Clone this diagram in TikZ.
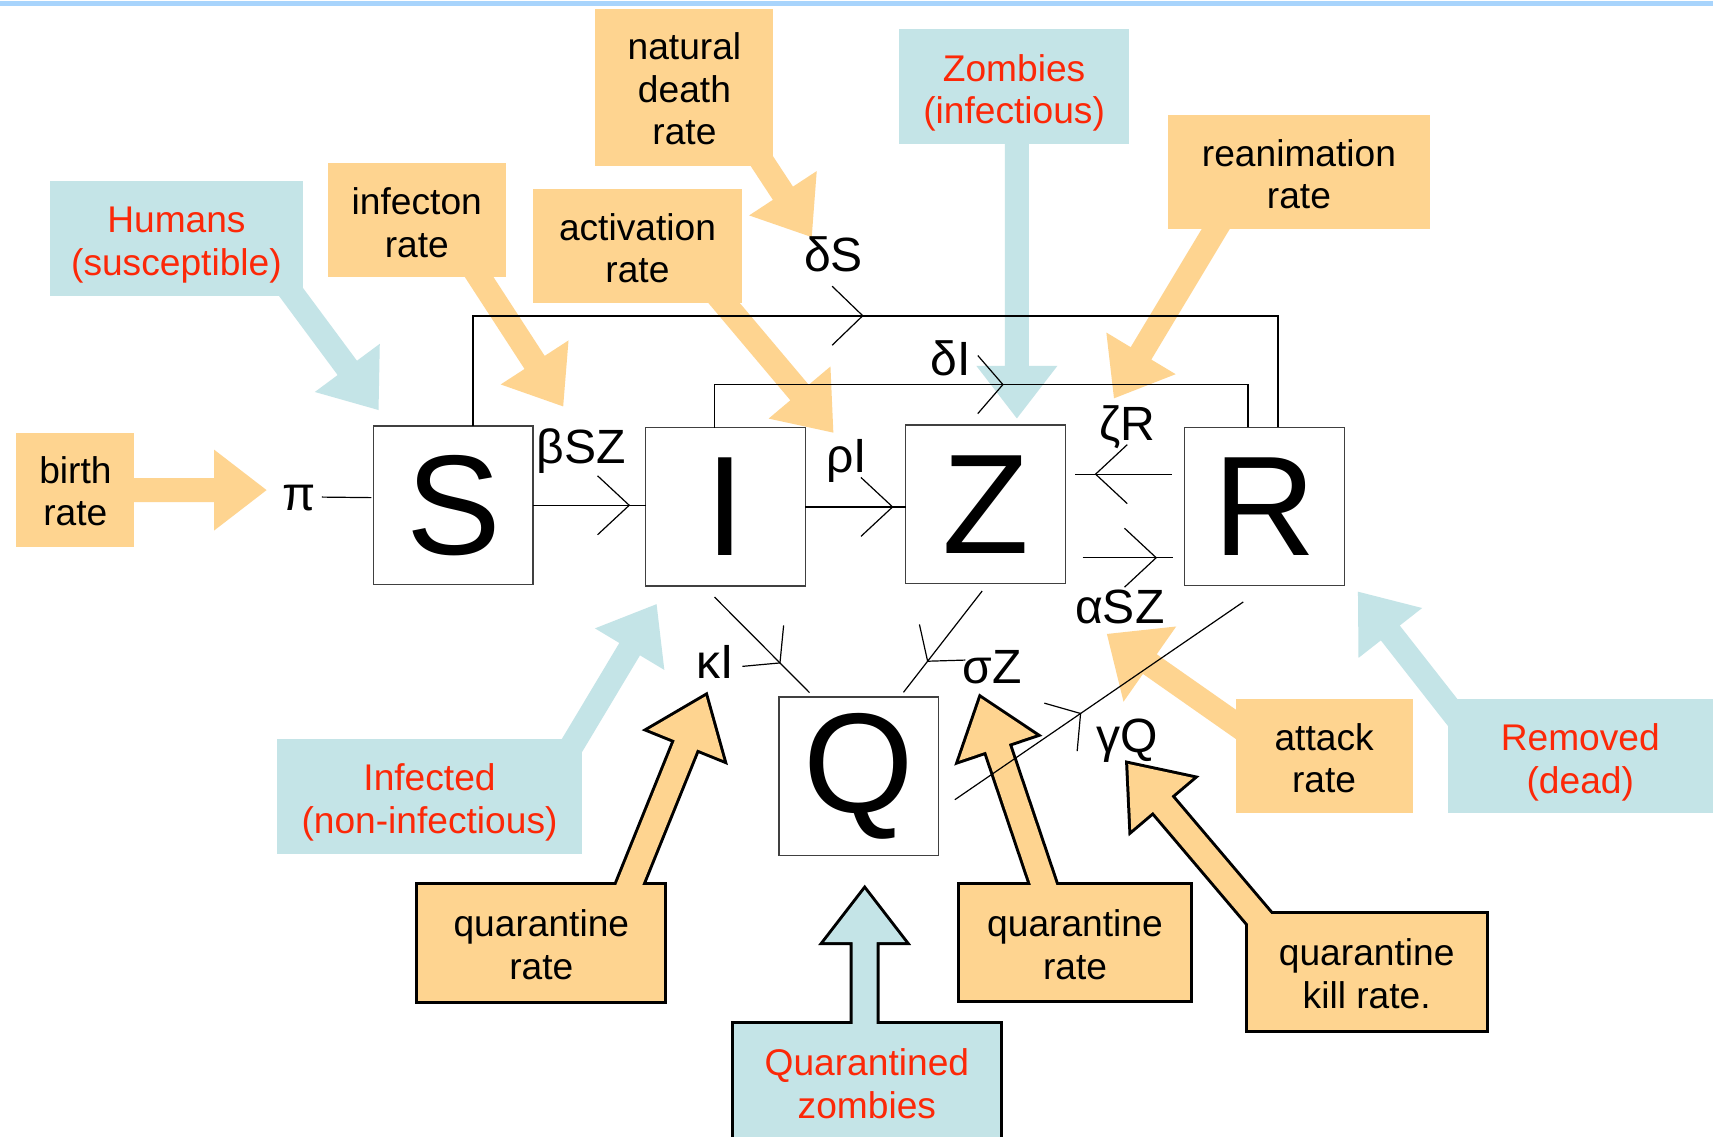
\documentclass[tikz,border=0pt]{standalone}
\usepackage{fontspec}
\setmainfont{Liberation Sans}
\usetikzlibrary{calc,decorations.markings}
\definecolor{cOr}{RGB}{254,212,144}
\definecolor{cBl}{RGB}{196,228,231}
\definecolor{cRd}{RGB}{252,40,8}
\definecolor{cBand}{RGB}{168,212,252}
\definecolor{cBox}{RGB}{64,64,64}
% callout pointer: [half head width]{path options}{start}{tip}
\newcommand\ptr[4][18.5pt]{%
  \coordinate (ptrN) at ($(#4)!24pt!(#3)$);
  \path[#2] ($(#3)!5.5pt!90:(#4)$) -- ($(ptrN)!5.5pt!90:(#4)$) -- ($(ptrN)!#1!90:(#4)$) -- (#4)
    -- ($(ptrN)!#1!-90:(#4)$) -- ($(ptrN)!5.5pt!-90:(#4)$) -- ($(#3)!5.5pt!-90:(#4)$) -- cycle;}
\tikzset{
  conn/.style={line width=0.55pt, black},
  thickconn/.style={line width=0.85pt, black},
  sz/.style 2 args={minimum width=#1*0.5pt, minimum height=#2*0.5pt},
  mbox/.style={draw=cBox, line width=0.6pt, fill=white, minimum width=73pt, minimum height=72.5pt,
    inner sep=0pt, outer sep=0pt, font=\fontsize{65}{65}\selectfont},
  ctext/.style={align=center, font=\fontsize{17}{19.5}\selectfont, inner sep=0pt, text=black},
  rtext/.style={ctext, text=cRd},
  obox/.style={fill=cOr, inner sep=0pt, outer sep=0pt},
  bbox/.style={fill=cBl, inner sep=0pt, outer sep=0pt},
  lbl/.style={font=\fontsize{22}{22}\selectfont, inner sep=0pt},
  bord/.style={draw=black, line width=2.75pt, line join=miter},
  flowmark/.style={postaction={decorate}, decoration={markings, mark=at position #1 with
    {\draw[conn] (-14.5pt,13.5pt) -- (0pt,0pt) -- (-14.5pt,-13.5pt);}}},
  qmark/.style={postaction={decorate}, decoration={markings, mark=at position #1 with
    {\draw[conn] (-11pt,13.3pt) -- (0pt,0pt) -- (-11pt,-13.3pt);}}},
  chev/.pic={\draw[conn] (-14pt,13.5pt) -- (0pt,0pt) -- (-14pt,-13.5pt);},
  chevs/.pic={\draw[conn] (-11.5pt,13.3pt) -- (0pt,0pt) -- (-11.5pt,-13.3pt);}
}
\begin{document}
\begin{tikzpicture}[x=0.5pt,y=-0.5pt]
\useasboundingbox (0,0) rectangle (1568,1040);
\clip (0,0) rectangle (1568,1040);
\fill[white] (0,0) rectangle (1568,1040);
\fill[cBand] (0,0.5) rectangle (1568,5.5);

% ---- unbordered callouts: pointers
\coordinate (hA) at (263,262.7);      \coordinate (hT) at (346.5,375.3);
\coordinate (infA) at (433.8,246.2);  \coordinate (infT) at (515.5,372);
\coordinate (ndA) at (682.6,125);     \coordinate (ndT) at (743,217);
\coordinate (acA) at (653.2,266);     \coordinate (acT) at (762.8,396);
\coordinate (zbA) at (930.8,120);     \coordinate (zbT) at (930.8,383);
\coordinate (reA) at (1117.5,201.8);  \coordinate (reT) at (1019.7,364.6);
\coordinate (brA) at (110,448.6);     \coordinate (brT) at (244,448.6);
\coordinate (ifA) at (518.8,690.3);   \coordinate (ifT) at (601,553);
\coordinate (atA) at (1144.2,672.1);  \coordinate (atT) at (1013.2,580.3);
\coordinate (rmA) at (1341.7,667.5);  \coordinate (rmT) at (1243,541.6);
\ptr{fill=cBl}{hA}{hT}
\ptr{fill=cOr}{infA}{infT}
\ptr{fill=cOr}{ndA}{ndT}
\ptr{fill=cOr}{acA}{acT}
\ptr{fill=cBl}{zbA}{zbT}
\ptr{fill=cOr}{reA}{reT}
\ptr{fill=cOr}{brA}{brT}
\ptr{fill=cBl}{ifA}{ifT}
\ptr[21pt]{fill=cOr}{atA}{atT}
\ptr{fill=cBl}{rmA}{rmT}

% ---- unbordered callouts: boxes and their texts
\node[bbox, sz={231}{104.6}] (hum) at (161.5,218.3) {};
\node[rtext] (humT) at ($(hum)+(0,6)$) {Humans\\(susceptible)};
\node[obox, sz={163}{104.5}] (infB) at (381.5,201.75) {};
\node[ctext] (infBT) at ($(infB)+(0,2)$) {infecton\\rate};
\node[obox, sz={163}{144}] (ndB) at (626.5,80) {};
\node[ctext] (ndBT) at ($(ndB)+(0,1.5)$) {natural\\death\\rate};
\node[obox, sz={191}{104.6}] (acB) at (583.5,225.3) {};
\node[ctext] (acBT) at ($(acB)+(0,2)$) {activation\\rate};
\node[bbox, sz={210.5}{105}] (zbB) at (928.25,79) {};
\node[rtext] (zbBT) at ($(zbB)+(0,6)$) {Zombies\\(infectious)};
\node[obox, sz={240}{105}] (reB) at (1189,157.5) {};
\node[ctext] (reBT) at ($(reB)+(0,2)$) {reanimation\\rate};
\node[obox, sz={108}{104.6}] (brB) at (69,448.3) {};
\node[ctext] (brBT) at ($(brB)+(0,1.5)$) {birth\\rate};
\node[bbox, sz={279.3}{105.2}] (ifB) at (393.15,728.9) {};
\node[rtext] (ifBT) at ($(ifB)+(0,5.5)$) {Infected\\(non-infectious)};
\node[obox, sz={162}{104}] (atB) at (1212,692) {};
\node[ctext] (atBT) at ($(atB)+(0,2)$) {attack\\rate};
\node[bbox, sz={243}{104}] (rmB) at (1446.5,692) {};
\node[rtext] (rmBT) at ($(rmB)+(0,6)$) {Removed\\(dead)};

% ---- bordered callouts
\coordinate (qlA) at (567.1,832);     \coordinate (qlT) at (645.9,637.3);
\coordinate (qzA) at (791.5,960);     \coordinate (qzT) at (791.5,814.3);
\coordinate (qrA2) at (961.5,828.5);  \coordinate (qrT2) at (897.6,639);
\coordinate (qkA) at (1162.1,851.9);  \coordinate (qkT) at (1032.7,699.3);
\draw[bord] (383,810) rectangle (608,916);
\draw[bord] (671.6,937) rectangle (915.3,1060);
\draw[bord] (879,810) rectangle (1089,915);
\draw[bord] (1142,837) rectangle (1360,943);
\ptr{bord}{qlA}{qlT}
\ptr{bord}{qzA}{qzT}
\ptr{bord}{qrA2}{qrT2}
\ptr{bord}{qkA}{qkT}
\fill[cOr] (383,810) rectangle (608,916);
\fill[cBl] (671.6,937) rectangle (915.3,1060);
\fill[cOr] (879,810) rectangle (1089,915);
\fill[cOr] (1142,837) rectangle (1360,943);
\ptr{fill=cOr}{qlA}{qlT}
\ptr{fill=cBl}{qzA}{qzT}
\ptr{fill=cOr}{qrA2}{qrT2}
\ptr{fill=cOr}{qkA}{qkT}
\node[ctext] (qlTxt) at (495.5,865) {quarantine\\rate};
\node[rtext] (qzTxt) at (793.5,992) {Quarantined\\zombies};
\node[ctext] (qrTxt) at (984,864.5) {quarantine\\rate};
\node[ctext] (qkTxt) at (1251,891.5) {quarantine\\kill rate.};

% ---- compartments
\node[mbox] (S) at (415,462.5) {S};
\node[mbox] (I) at (664,464) {I};
\node[mbox] (Z) at (902,461.5) {Z};
\node[mbox] (R) at (1157.5,463.5) {R};
\node[mbox] (Q) at (786,710.5) {Q};

% ---- labels
\node[lbl] (lpi) at (274,456) {π};
\node[lbl] (lbSZ) at (532,413) {βSZ};
\node[lbl] (lrI) at (775,422) {ρI};
\node[lbl] (ldS) at (763,233) {δS};
\node[lbl] (ldI) at (870,328) {δI};
\node[lbl] (lzR) at (1032,391) {ζR};
\node[lbl] (laSZ) at (1025,556) {αSZ};
\node[lbl] (lkI) at (655,606) {κI};
\node[lbl] (lsZ) at (908,611) {σZ};
\node[lbl] (lgQ) at (1032,678) {γQ};

% ---- connectors
\draw[conn] ($(S.west)+(-2,-7)$) -- ($(lpi.east)+(5,-1)$);
\draw[conn, flowmark=0.854] (S.east) -- (S.east -| I.west);
\draw[conn, flowmark=0.87] (I.east) -- (I.east -| Z.west);
\coordinate (zrA) at ($(R.west)+(-12,-29.5)$); \coordinate (zrB) at ($(Z.east)+(9,-27.5)$);
\draw[conn, flowmark=0.787] (zrA) -- (zrB);
\coordinate (azA) at ($(Z.east)+(16,49)$); \coordinate (azB) at ($(R.west)+(-10.4,47)$);
\draw[conn, flowmark=0.81] (azA) -- (azB);
\coordinate (iqA) at ($(I.south)+(-10,10)$); \coordinate (iqB) at ($(Q.north)+(-45,-4)$);
\draw[conn, qmark=0.69] (iqA) -- (iqB);
\coordinate (zqA) at ($(Z.south)+(-3,7)$); \coordinate (zqB) at ($(Q.north)+(41,-4.3)$);
\draw[conn, qmark=0.694] (zqA) -- (zqB);
\coordinate (qrA) at ($(Q.east)+(15,21.5)$); \coordinate (qrB) at ($(R.south)+(-19.5,15)$);
\draw[conn, qmark=0.436] (qrA) -- (qrB);

\coordinate (dsL) at ($(S.north)+(18,0)$);
\coordinate (dsR) at ($(R.north)+(12.5,0)$);
\coordinate (dsY) at (0,289);
\draw[thickconn] (dsL) |- (dsR |- dsY) -- (dsR);
\pic at ($(dsL |- dsY)!0.484!(dsR |- dsY)$) {chev};
\coordinate (diL) at ($(I.north)+(-10,0)$);
\coordinate (diR) at ($(R.north)+(-15.5,0)$);
\coordinate (diY) at (0,352);
\draw[thickconn] (diL) |- (diR |- diY) -- (diR);
\pic at ($(diL |- diY)!0.541!(diR |- diY)$) {chevs};
\end{tikzpicture}
\end{document}
